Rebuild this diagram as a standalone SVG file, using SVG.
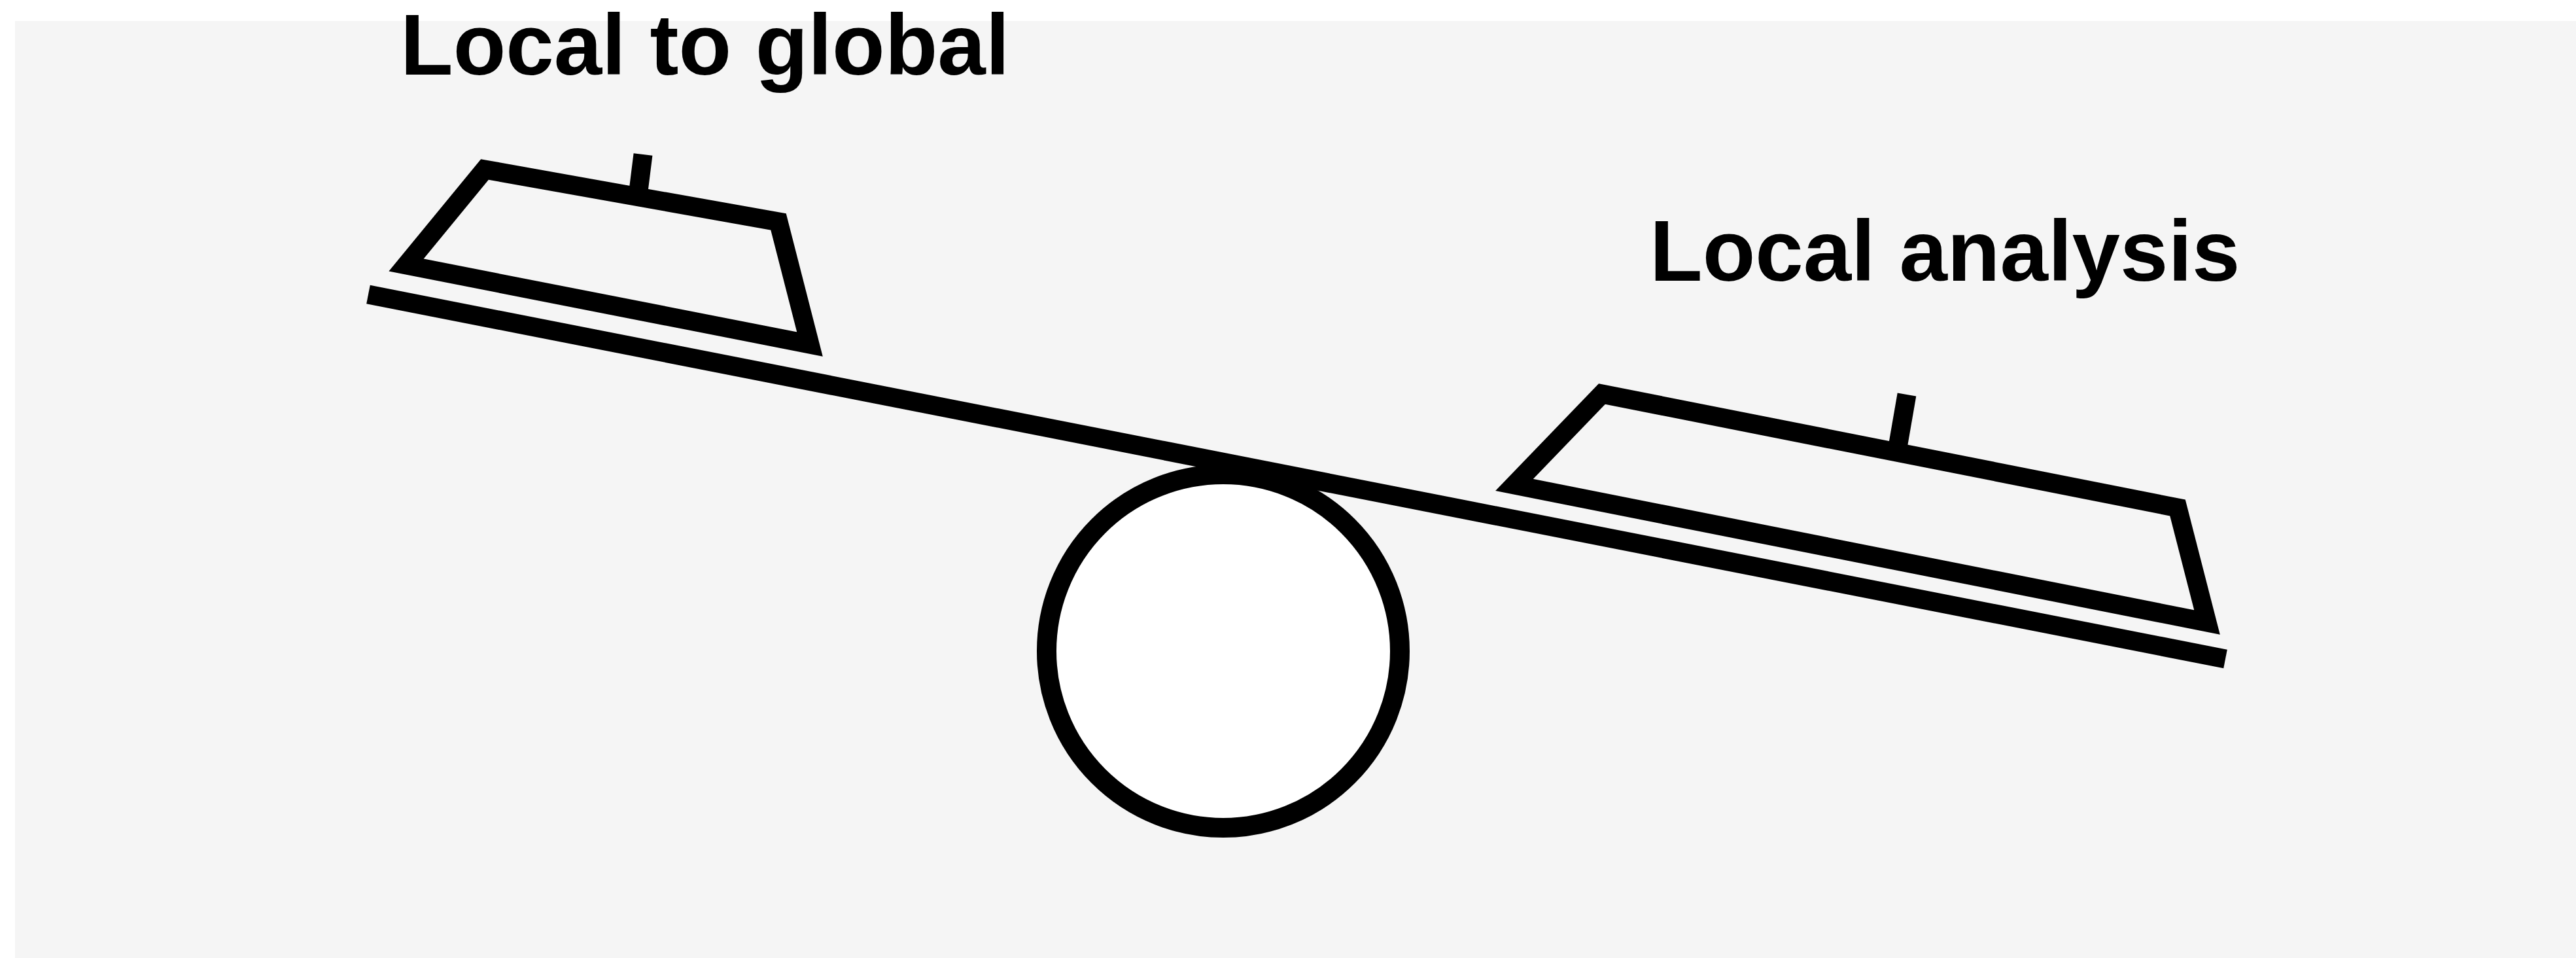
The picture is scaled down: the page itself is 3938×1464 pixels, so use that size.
<svg xmlns="http://www.w3.org/2000/svg" width="3938" height="1464" viewBox="0 0 3938 1464">
  <style>
    .ink { fill: none; stroke: #000; stroke-width: 29; stroke-linejoin: miter; stroke-linecap: butt; }
    .label { font-family: "Liberation Sans", Arial, sans-serif; font-weight: bold; font-size: 132px; fill: #000; }
  </style>
  <rect x="0" y="0" width="3938" height="1464" fill="#ffffff"/>
  <rect x="23" y="32" width="3915" height="1432" fill="#f5f5f5"/>

  <g id="fulcrum">
    <circle cx="1870" cy="995" r="270" fill="#ffffff" stroke="#000" stroke-width="30"/>
  </g>

  <g id="beam">
    <line class="ink" x1="563" y1="450" x2="3402" y2="1007"/>
  </g>

  <g id="left-pan">
    <polygon class="ink" points="741,259 1190,339 1238,526 621,405"/>
    <line class="ink" x1="983" y1="236" x2="976" y2="292"/>
  </g>

  <g id="right-pan">
    <polygon class="ink" points="2449,602 3329,776 3374,951 2315,741"/>
    <line class="ink" x1="2915" y1="603" x2="2902" y2="678"/>
  </g>

  <g id="label-left">
    <text class="label" x="612" y="114">Local to global</text>
  </g>
  <g id="label-right">
    <text class="label" x="2522" y="429">Local analysis</text>
  </g>
</svg>
